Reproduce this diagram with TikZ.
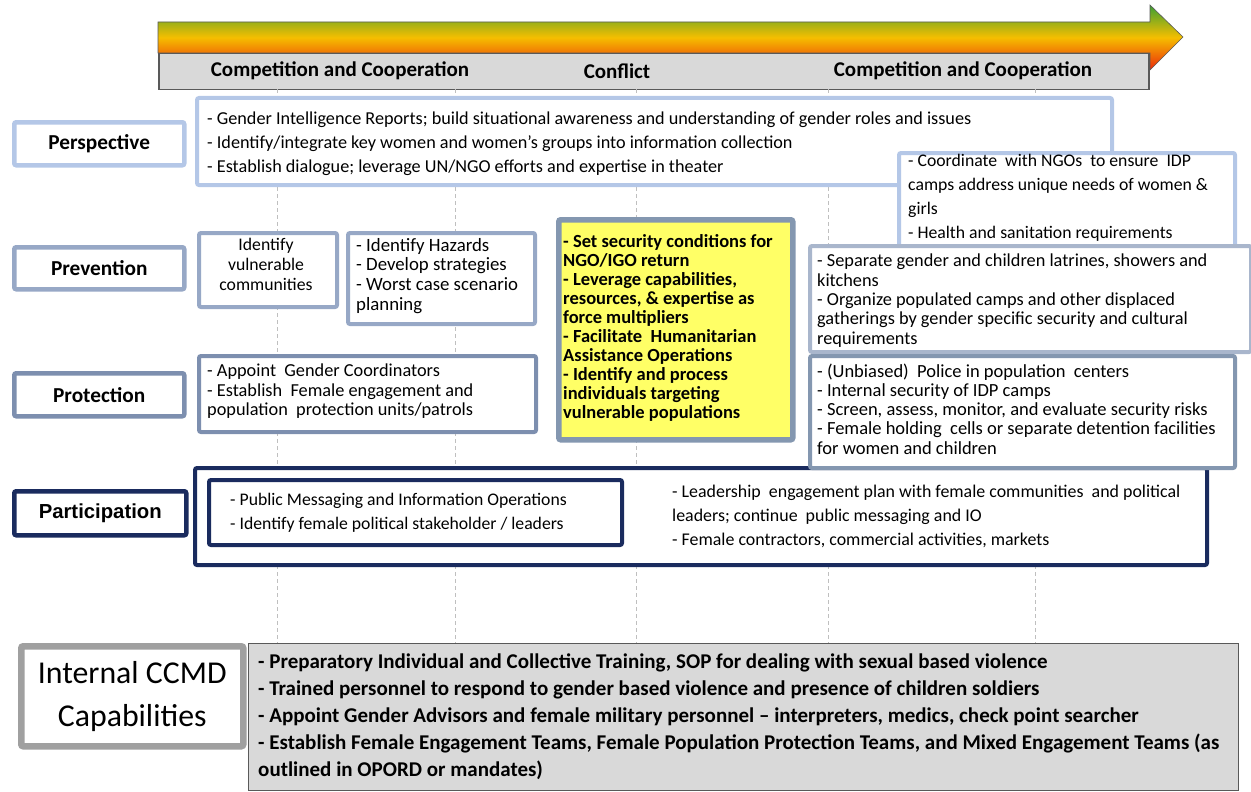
\documentclass[tikz,border=0pt]{standalone}
\usepackage{fontspec}
\setmainfont{Carlito}
\newfontfamily\arialf{Liberation Sans}
\usetikzlibrary{calc}
\definecolor{perB}{HTML}{B4C7E7}
\definecolor{preB}{HTML}{97A8C6}
\definecolor{proB}{HTML}{7D8FAF}
\definecolor{yelB}{HTML}{8497B0}
\definecolor{navy}{HTML}{1A2B5E}
\definecolor{hdrF}{HTML}{D9D9D9}
\definecolor{hdrB}{HTML}{595959}
\definecolor{capB}{HTML}{A0A0A0}
\definecolor{yelF}{HTML}{FFFF66}
\definecolor{gridc}{HTML}{BFBFBF}
\definecolor{sepB}{HTML}{A9B6CC}
\newcommand{\bx}[6]{\node[#2, anchor=north west, minimum width={#5-#3}, minimum height={#6-#4}] (#1) at (#3,#4) {};}
\newcommand{\fs}[2]{\fontsize{#1}{#2}\selectfont}
\begin{document}
\begin{tikzpicture}[x=1pt,y=-1pt,
  boxs/.style={draw, fill=white, rounded corners=2pt, inner sep=0pt},
  lbl/.style={boxs, line width=4.5pt},
  txt/.style={inner sep=0pt, anchor=north west, align=left},
  lbltxt/.style={inner sep=0pt, font=\fs{21.3}{24}\bfseries},
  hdrtxt/.style={inner sep=0pt, font=\fs{21}{24}\bfseries},
  gridl/.style={gridc, line width=0.8pt, dash pattern=on 4pt off 3pt}
]
\useasboundingbox (0,0) rectangle (1251,792);
% timeline arrow
\path[draw=hdrB, line width=0.6pt, top color={rgb,255:red,60;green,160;blue,50}, bottom color={rgb,255:red,235;green,40;blue,10}, middle color={rgb,255:red,245;green,190;blue,0}]
  (158,22) -- (1150,22) -- (1150,5) -- (1183,37) -- (1150,70) -- (1150,53) -- (158,53) -- cycle;
\coordinate (arrowtip) at (1183,37);
% header bar
\bx{hdr}{draw=hdrB, fill=hdrF, line width=1.5pt, inner sep=0pt}{158}{53}{1148}{89}
\node[hdrtxt] (h1) at (340,71) {Competition and Cooperation};
\node[hdrtxt] (h2) at (617,71) {Conflict};
\node[hdrtxt] (h3) at (963,71) {Competition and Cooperation};
% grid lines
\foreach \gx in {277,455,636,828,1035} { \draw[gridl] (\gx,89) -- (\gx,643); }
% row labels
\bx{lper}{lbl, draw=perB}{12}{120}{182}{163}
\node[lbltxt] (lpert) at (lper.center) {Perspective};
\bx{lpre}{lbl, draw=preB}{12}{245}{182}{287}
\node[lbltxt] (lpret) at (lpre.center) {Prevention};
\bx{lpro}{lbl, draw=proB}{12}{371}{182}{414}
\node[lbltxt] (lprot) at (lpro.center) {Protection};
\bx{lpar}{lbl, draw=navy}{12}{489}{184}{533}
\node[inner sep=0pt, font=\arialf\fs{20.3}{22}\bfseries] (lpart) at (lpar.center) {Participation};
% Perspective
\bx{per}{boxs, draw=perB, line width=4pt}{195}{96}{1110}{183}
\node[txt, font=\fs{18.2}{24}] (pert) at (207,111.5) {- Gender Intelligence Reports; build situational awareness and understanding of gender roles and issues\\- Identify/integrate key women and women’s groups into information collection\\- Establish dialogue; leverage UN/NGO efforts and expertise in theater};
\bx{ngo}{boxs, draw=perB, line width=4pt}{897}{151}{1233}{252}
\node[txt, font=\fs{17.7}{24}] (ngot) at (908,154.5) {- Coordinate\ \ with NGOs\ \ to ensure\ \ IDP\\camps address unique\ needs of women \&\\girls\\- Health and sanitation requirements};
\bx{sep}{boxs, draw=sepB, line width=4pt}{808}{244}{1249}{350}
\node[txt, font=\fs{18.3}{19.3}] (sept) at (817,254) {- Separate gender and children latrines, showers and\\kitchens\\- Organize populated camps and other displaced\\gatherings by gender specific security and cultural\\requirements};
% Prevention
\bx{vul}{boxs, draw=preB, line width=4pt}{197}{231}{335}{305}
\node[txt, anchor=north, align=center, font=\fs{17.7}{20}] (vult) at (266,238.5) {Identify\\vulnerable\\communities};
\bx{haz}{boxs, draw=preB, line width=4pt}{346}{231}{533}{322}
\node[txt, font=\fs{18.8}{19.7}] (hazt) at (356,237.8) {- Identify Hazards\\- Develop strategies\\- Worst case scenario\\planning};
% Yellow box
\bx{yel}{boxs, draw=yelB, fill=yelF, line width=5.5pt}{556}{217}{790}{437}
\node[txt, font=\fs{18.5}{19}\bfseries] (yelt) at (563,234.5) {- Set security conditions for\\NGO/IGO return\\- Leverage capabilities,\\resources, \& expertise as\\force multipliers\\- Facilitate\ \ Humanitarian\\Assistance Operations\\- Identify and process\\individuals targeting\\vulnerable populations};
% Protection
\bx{prol}{boxs, draw=proB, line width=4pt}{197}{354}{534}{430}
\node[txt, font=\fs{18.3}{19.5}] (prolt) at (207,364) {- Appoint\ \ Gender Coordinators\\- Establish\ \ Female engagement and\\population\ \ protection units/patrols};
% Participation
\bx{par}{boxs, draw=navy, line width=4pt}{193}{466}{1205}{563}
\bx{pari}{boxs, draw=navy, line width=4pt}{207}{478}{620}{543}
\node[txt, font=\fs{17.7}{24}] (parit) at (230,493.5) {- Public Messaging and Information Operations\\- Identify female political stakeholder / leaders};
\node[txt, font=\fs{17.9}{24}] (parrt) at (672,485) {- Leadership\ \ engagement plan with female communities\ \ and political\\leaders; continue\ \ public messaging and IO\\- Female contractors, commercial activities, markets};
\bx{pror}{boxs, draw=yelB, line width=4pt}{808}{354}{1233}{466}
\node[txt, font=\fs{18.5}{19.25}] (prort) at (817,363.3) {- (Unbiased)\ \ Police in population\ \ centers\\- Internal security of IDP camps\\- Screen, assess, monitor, and evaluate security risks\\- Female holding\ \ cells or separate detention facilities\\for women and children};
% Internal capabilities
\bx{cap}{boxs, draw=capB, line width=6.5pt}{18}{643}{240}{743}
\node[inner sep=0pt, align=center, font=\fs{31.8}{43}] (capt) at (cap.center) {Internal CCMD\\Capabilities};
\bx{capl}{draw=hdrB, fill=hdrF, line width=1.2pt, inner sep=0pt}{248}{643}{1238}{790}
\node[txt, font=\fs{21}{27}\bfseries] (caplt) at (258,654) {- Preparatory Individual and Collective Training, SOP for dealing with sexual based violence\\- Trained personnel to respond to gender based violence and presence of children soldiers\\- Appoint Gender Advisors and female military personnel -- interpreters, medics, check point searcher\\- Establish Female Engagement Teams, Female Population Protection Teams, and Mixed Engagement Teams (as\\outlined in OPORD or mandates)};
\end{tikzpicture}
\end{document}
